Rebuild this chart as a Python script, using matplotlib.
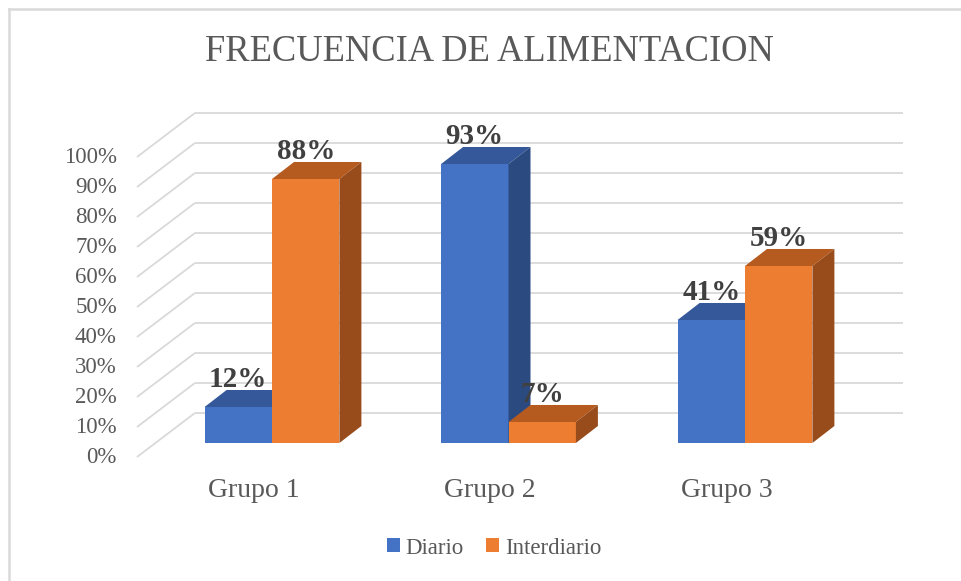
"""
Frecuencia de alimentacion: 3D-style clustered bars (Excel look) in plain matplotlib.
"""

import matplotlib
matplotlib.use("Agg")
import matplotlib.pyplot as plt
from matplotlib.patches import Polygon, Patch
from matplotlib.lines import Line2D

plt.rcParams["font.family"] = ["Liberation Serif", "DejaVu Serif"]

TITLE = "FRECUENCIA DE ALIMENTACION"
GROUPS = ["Grupo 1", "Grupo 2", "Grupo 3"]
SERIES = ["Diario", "Interdiario"]
DIARIO = [12, 93, 41]
INTERDIARIO = [88, 7, 59]
Y_TICKS = [0, 10, 20, 30, 40, 50, 60, 70, 80, 90, 100]

# colours: front, top, side
BLUE = ("#4472C4", "#34589A", "#2B4A80")
ORANGE = ("#ED7D31", "#B65B20", "#984C1B")
GRID = "#D9D9D9"
TEXT = "#595959"
LABEL = "#404040"

# perspective offsets (data units: x = group index, y = percent)
BAR_W = 0.285
DEPTH_X, DEPTH_Y = 0.093, 5.67
PLANE_X, PLANE_Y = -0.571, -4.67     # front plane for tick labels
WALL_X, WALL_Y = -0.326, 10.0        # back wall
WALL_END = 2.668


def bar3d(ax, x, h, colors):
    front, top, side = colors
    ax.bar(x, h, BAR_W, align="edge", color=front, linewidth=0, zorder=3)
    x1 = x + BAR_W
    ax.add_patch(Polygon([(x, h), (x1, h), (x1 + DEPTH_X, h + DEPTH_Y),
                          (x + DEPTH_X, h + DEPTH_Y)],
                         closed=True, facecolor=top, linewidth=0, zorder=3))
    ax.add_patch(Polygon([(x1, 0), (x1 + DEPTH_X, DEPTH_Y),
                          (x1 + DEPTH_X, h + DEPTH_Y), (x1, h)],
                         closed=True, facecolor=side, linewidth=0, zorder=3))


def main():
    fig = plt.figure(figsize=(9.61, 5.81), dpi=100)
    ax = fig.add_axes([0, 0, 1, 1])
    ax.set_xlim(-272 / 236.5, (961 - 272) / 236.5)
    ax.set_ylim((443 - 581) / 3, 443 / 3)
    ax.axis("off")

    # back wall grid + diagonal side lines
    for v in Y_TICKS:
        ax.plot([PLANE_X, WALL_X], [v + PLANE_Y, v + WALL_Y],
                color=GRID, lw=1.3, zorder=1, solid_capstyle="butt")
        ax.plot([WALL_X, WALL_END], [v + WALL_Y, v + WALL_Y],
                color=GRID, lw=1.3, zorder=1, solid_capstyle="butt")
        ax.text(PLANE_X - 0.085, v + PLANE_Y, f"{v}%", ha="right",
                va="center", fontsize=16.5, color=TEXT)

    # bars, drawn left to right so that hidden faces get covered
    for i in range(len(GROUPS)):
        for j, (vals, cols) in enumerate([(DIARIO, BLUE), (INTERDIARIO, ORANGE)]):
            x = i + (j - 1) * BAR_W
            bar3d(ax, x, vals[i], cols)
            ax.text(x + BAR_W / 2, vals[i] + 6.7, f"{vals[i]}%", ha="center",
                    va="baseline", fontsize=21, fontweight="bold",
                    color=LABEL, zorder=5)

    for i, name in enumerate(GROUPS):
        ax.text(i - 0.078, -15.67, name, ha="center", va="center",
                fontsize=20, color=TEXT)

    fig.text(489.5 / 961, 1 - 52 / 581, TITLE, ha="center", va="center",
             fontsize=26.3, color=TEXT)

    handles = [Patch(facecolor=BLUE[0], label=SERIES[0]),
               Patch(facecolor=ORANGE[0], label=SERIES[1])]
    leg = fig.legend(handles=handles, loc="center", ncol=2, frameon=False,
                     bbox_to_anchor=(494 / 961, 33 / 581), fontsize=16.5,
                     handlelength=0.55, handleheight=0.55, handletextpad=0.25,
                     columnspacing=1.0)
    for t in leg.get_texts():
        t.set_color(TEXT)

    # chart border (top and left edges visible in the crop)
    fig.add_artist(Line2D([9 / 961, 1], [1 - 9 / 581] * 2, color=GRID, lw=1.8,
                          transform=fig.transFigure))
    fig.add_artist(Line2D([9 / 961] * 2, [0, 1 - 9 / 581], color=GRID, lw=1.8,
                          transform=fig.transFigure))

    fig.savefig("out.png", dpi=100)


if __name__ == "__main__":
    main()
